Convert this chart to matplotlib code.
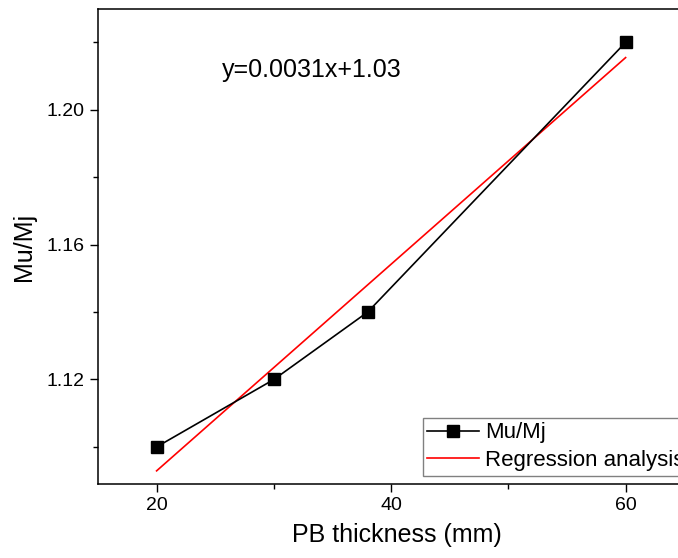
import numpy as np
import matplotlib
matplotlib.use('Agg')
import matplotlib.pyplot as plt
from matplotlib.ticker import FormatStrFormatter

plt.rcParams['font.family'] = ['Liberation Sans', 'DejaVu Sans']

# data
thickness = [20, 30, 38, 60]
mu_mj = [1.10, 1.12, 1.14, 1.22]
equation = 'y=0.0031x+1.03'

slope, intercept = np.polyfit(thickness, mu_mj, 1)
fit_x = np.array([thickness[0], thickness[-1]])
fit_y = slope * fit_x + intercept

fig = plt.figure(figsize=(6.78, 5.58), dpi=100)
# axes runs past the right edge, as in the cropped original
ax = fig.add_axes([0.1445, 0.1326, 0.882, 0.8513])

ax.plot(thickness, mu_mj, color='black', lw=1.2, marker='s', ms=8,
        label='Mu/Mj', zorder=3)
ax.plot(fit_x, fit_y, color='red', lw=1.2, label='Regression analysis', zorder=2)

ax.set_xlim(15, 66)
ax.set_ylim(1.089, 1.2299)

ax.set_xticks([20, 40, 60])
ax.set_xticks([30, 50], minor=True)
ax.set_yticks([1.12, 1.16, 1.20])
ax.set_yticks([1.10, 1.14, 1.18, 1.22], minor=True)
ax.yaxis.set_major_formatter(FormatStrFormatter('%.2f'))

ax.tick_params(which='both', direction='out', width=1.0, labelsize=14,
               top=False, right=False)
ax.tick_params(which='major', length=6)
ax.tick_params(which='minor', length=3.5)
for s in ax.spines.values():
    s.set_linewidth(1.1)

ax.set_xlabel('PB thickness (mm)', fontsize=18, labelpad=6)
ax.set_ylabel('Mu/Mj', fontsize=18, labelpad=8)

ax.text(222 / 678, 1 - 70 / 558, equation, transform=fig.transFigure,
        fontsize=18, va='center', ha='left')

leg = ax.legend(loc='upper left', bbox_to_anchor=(423 / 678, 1 - 418 / 558),
                bbox_transform=fig.transFigure, borderaxespad=0,
                fontsize=16, frameon=True, fancybox=False,
                edgecolor='gray', framealpha=1, handlelength=2.3,
                handletextpad=0.3, borderpad=0.2, labelspacing=0.3)
leg.get_frame().set_linewidth(1.0)

fig.savefig('out.png', dpi=100)
